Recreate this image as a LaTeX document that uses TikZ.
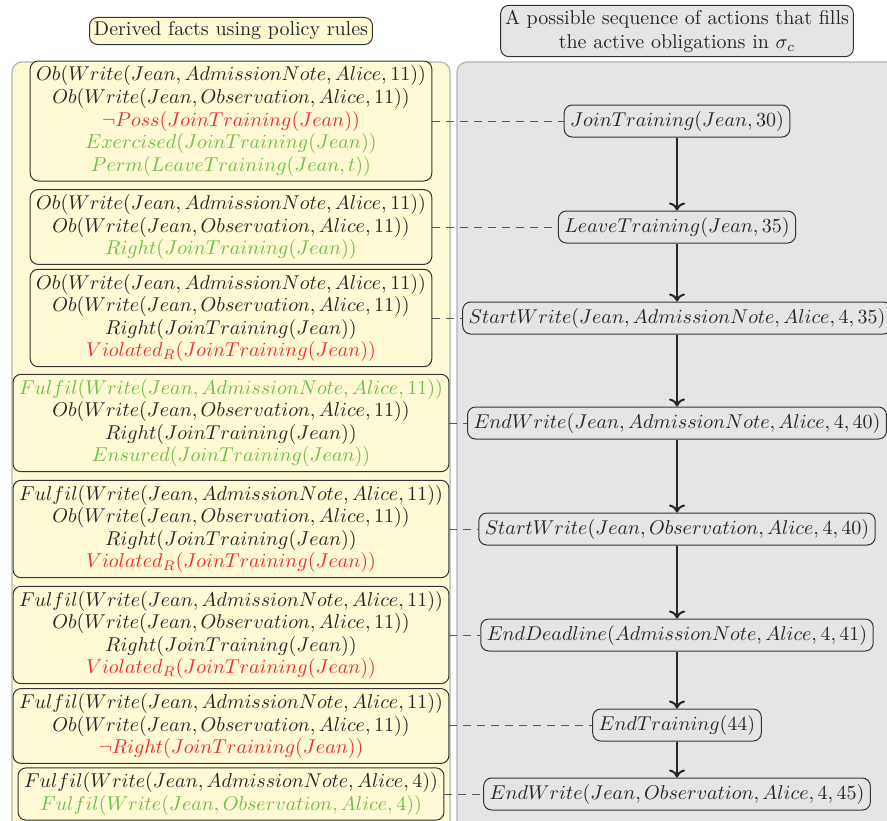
\documentclass[tikz,border=0pt]{standalone}
\usetikzlibrary{arrows.meta}
\definecolor{factyellow}{RGB}{255,250,212}
\definecolor{actgray}{RGB}{229,229,232}
\definecolor{okgreen}{RGB}{110,190,75}
\definecolor{badred}{RGB}{238,45,50}
\newcommand\MYfactx{231}
\newcommand\MYactx{677}
\newcommand\MYok[1]{\textcolor{okgreen}{$#1$}}
\newcommand\MYbad[1]{\textcolor{badred}{$#1$}}
\begin{document}
\begin{tikzpicture}[x=0.5pt,y=-0.5pt,
  fact/.style={draw=black!80, fill=factyellow, text=black!85, rounded corners=4pt, align=center, inner xsep=3pt, inner ysep=2.4pt, line width=0.5pt, execute at begin node={\baselineskip=11.3pt}},
  act/.style={draw=black!80, fill=actgray, text=black!85, rounded corners=4pt, inner sep=3pt, line width=0.5pt},
  head/.style={inner sep=2.2pt},
  panel/.style={draw=black!30, rounded corners=5pt, line width=0.6pt},
  link/.style={dashed, dash pattern=on 4pt off 3pt, draw=black!65, line width=0.5pt},
  step arrow/.style={-{To[length=4pt,width=8pt,line width=1pt]}, draw=black!85, line width=1.3pt}]

\clip (0,0) rectangle (887,820);

% the two columns
\draw[panel, fill=factyellow] (12,62) rectangle (450,840);
\draw[panel, fill=actgray] (457,62) rectangle (900,840);

\node[fact, head] (HL) at (\MYfactx,31) {Derived facts using policy rules};
\node[act, head, align=center] (HR) at (\MYactx,31) {A possible sequence of actions that fills\\ the active obligations in $\sigma_c$};

% derived facts
\node[fact] (F1) at (\MYfactx,121) {$Ob(Write(Jean, AdmissionNote, Alice, 11))$\\ $Ob(Write(Jean, Observation, Alice, 11))$\\ \MYbad{\neg Poss(JoinTraining(Jean))}\\ \MYok{Exercised(JoinTraining(Jean))}\\ \MYok{Perm(LeaveTraining(Jean, t))}};
\node[fact] (F2) at (\MYfactx,227) {$Ob(Write(Jean, AdmissionNote, Alice, 11))$\\ $Ob(Write(Jean, Observation, Alice, 11))$\\ \MYok{Right(JoinTraining(Jean))}};
\node[fact] (F3) at (\MYfactx,318) {$Ob(Write(Jean, AdmissionNote, Alice, 11))$\\ $Ob(Write(Jean, Observation, Alice, 11))$\\ $Right(JoinTraining(Jean))$\\ \MYbad{Violated_R(JoinTraining(Jean))}};
\node[fact] (F4) at (\MYfactx,423) {\MYok{Fulfil(Write(Jean, AdmissionNote, Alice, 11))}\\ $Ob(Write(Jean, Observation, Alice, 11))$\\ $Right(JoinTraining(Jean))$\\ \MYok{Ensured(JoinTraining(Jean))}};
\node[fact] (F5) at (\MYfactx,529) {$Fulfil(Write(Jean, AdmissionNote, Alice, 11))$\\ $Ob(Write(Jean, Observation, Alice, 11))$\\ $Right(JoinTraining(Jean))$\\ \MYbad{Violated_R(JoinTraining(Jean))}};
\node[fact] (F6) at (\MYfactx,635) {$Fulfil(Write(Jean, AdmissionNote, Alice, 11))$\\ $Ob(Write(Jean, Observation, Alice, 11))$\\ $Right(JoinTraining(Jean))$\\ \MYbad{Violated_R(JoinTraining(Jean))}};
\node[fact] (F7) at (\MYfactx,726) {$Fulfil(Write(Jean, AdmissionNote, Alice, 11))$\\ $Ob(Write(Jean, Observation, Alice, 11))$\\ \MYbad{\neg Right(JoinTraining(Jean))}};
\node[fact] (F8) at (\MYfactx,794) {$Fulfil(Write(Jean, AdmissionNote, Alice, 4))$\\ \MYok{Fulfil(Write(Jean, Observation, Alice, 4))}};

% actions
\node[act] (A1) at (\MYactx,121) {$JoinTraining(Jean, 30)$};
\node[act] (A2) at (\MYactx,227) {$LeaveTraining(Jean, 35)$};
\node[act] (A3) at (\MYactx,318) {$StartWrite(Jean, AdmissionNote, Alice, 4, 35)$};
\node[act] (A4) at (\MYactx,423) {$EndWrite(Jean, AdmissionNote, Alice, 4, 40)$};
\node[act] (A5) at (\MYactx,529) {$StartWrite(Jean, Observation, Alice, 4, 40)$};
\node[act] (A6) at (\MYactx,635) {$EndDeadline(AdmissionNote, Alice, 4, 41)$};
\node[act] (A7) at (\MYactx,725) {$EndTraining(44)$};
\node[act] (A8) at (\MYactx,794) {$EndWrite(Jean, Observation, Alice, 4, 45)$};

 \draw[step arrow] (A1) -- (A2);
 \draw[step arrow] (A2) -- (A3);
 \draw[step arrow] (A3) -- (A4);
 \draw[step arrow] (A4) -- (A5);
 \draw[step arrow] (A5) -- (A6);
 \draw[step arrow] (A6) -- (A7);
 \draw[step arrow] (A7) -- (A8);

 \draw[link] (F1.east |- A1) -- (A1.west);
 \draw[link] (F2.east |- A2) -- (A2.west);
 \draw[link] (F3.east |- A3) -- (A3.west);
 \draw[link] (F4.east |- A4) -- (A4.west);
 \draw[link] (F5.east |- A5) -- (A5.west);
 \draw[link] (F6.east |- A6) -- (A6.west);
 \draw[link] (F7.east |- A7) -- (A7.west);
 \draw[link] (F8.east |- A8) -- (A8.west);

\end{tikzpicture}
\end{document}
